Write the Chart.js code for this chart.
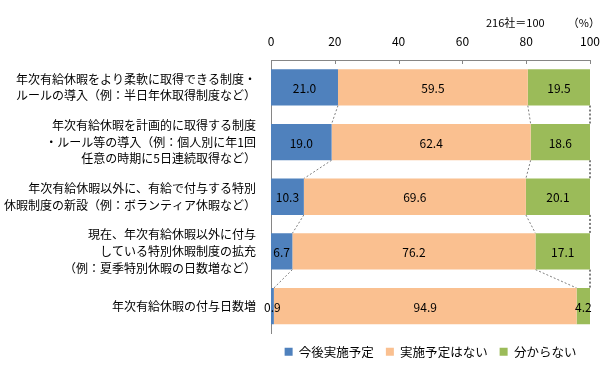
<!DOCTYPE html>
<html>
<head>
<meta charset="utf-8">
<script src="https://cdn.jsdelivr.net/npm/chart.js@4/dist/chart.umd.min.js"></script>
<style>
  html, body { margin: 0; padding: 0; background: #fff; }
  #wrap { width: 613px; height: 368px; }
</style>
</head>
<body>
<div id="wrap"><canvas id="grafico"></canvas></div>
<script>
const categorias = [
  ["年次有給休暇をより柔軟に取得できる制度・", "ルールの導入（例：半日年休取得制度など）"],
  ["年次有給休暇を計画的に取得する制度", "・ルール等の導入（例：個人別に年1回", "任意の時期に5日連続取得など）"],
  ["年次有給休暇以外に、有給で付与する特別", "休暇制度の新設（例：ボランティア休暇など）"],
  ["現在、年次有給休暇以外に付与", "している特別休暇制度の拡充", "（例：夏季特別休暇の日数増など）"],
  "年次有給休暇の付与日数増"
];
const seriesNombres = ["今後実施予定", "実施予定はない", "分からない"];
const valoresPlan = [21.0, 19.0, 10.3, 6.7, 0.9];
const valoresNo = [59.5, 62.4, 69.6, 76.2, 94.9];
const valoresNoSabe = [19.5, 18.6, 20.1, 17.1, 4.2];
const ticksX = [0, 20, 40, 60, 80, 100];
const notaBase = "216社＝100";
const notaUnidad = "（%）";

const colores = ["#4F81BD", "#FAC090", "#9BBB59"];
const fuente = "'Noto Sans CJK JP', 'Noto Sans', sans-serif";

// lineas de serie punteadas entre barras, marcas de eje y etiquetas
const extras = {
  id: "extras",
  beforeDatasetsDraw(chart) {
    const ctx = chart.ctx;
    const n = chart.data.labels.length;
    ctx.save();
    ctx.setLineDash([2, 2]);
    ctx.lineWidth = 1;
    chart.data.datasets.forEach((ds, d) => {
      const meta = chart.getDatasetMeta(d);
      ctx.strokeStyle = d === 2 ? "#000" : "#7f7f7f";
      for (let i = 0; i < n - 1; i++) {
        const a = meta.data[i], b = meta.data[i + 1];
        ctx.beginPath();
        ctx.moveTo(a.x, a.y + a.height / 2);
        ctx.lineTo(b.x, b.y - b.height / 2);
        ctx.stroke();
      }
    });
    ctx.restore();
  },
  afterDatasetsDraw(chart) {
    const ctx = chart.ctx;
    ctx.save();
    ctx.font = "12px " + fuente;
    ctx.fillStyle = "#000";
    ctx.textAlign = "center";
    ctx.textBaseline = "middle";
    chart.data.datasets.forEach((ds, d) => {
      chart.getDatasetMeta(d).data.forEach((el, i) => {
        ctx.fillText(ds.data[i].toFixed(1), (el.x + el.base) / 2, el.y + 1);
      });
    });
    // marcas del eje superior hacia dentro
    const x = chart.scales.x;
    const top = chart.chartArea.top;
    ctx.strokeStyle = "#868686";
    ctx.lineWidth = 1;
    ticksX.forEach(v => {
      const px = Math.round(x.getPixelForValue(v)) + 0.5;
      ctx.beginPath();
      ctx.moveTo(px, top);
      ctx.lineTo(px, top + 4);
      ctx.stroke();
    });
    ctx.font = "11px " + fuente;
    ctx.textAlign = "left";
    ctx.fillText(notaBase, 486, 23);
    ctx.textAlign = "right";
    ctx.fillText(notaUnidad, 600, 23);
    ctx.restore();
  }
};

new Chart(document.getElementById("grafico"), {
  type: "bar",
  data: {
    labels: categorias,
    datasets: [
      { label: seriesNombres[0], data: valoresPlan, backgroundColor: colores[0] },
      { label: seriesNombres[1], data: valoresNo, backgroundColor: colores[1] },
      { label: seriesNombres[2], data: valoresNoSabe, backgroundColor: colores[2] }
    ]
  },
  options: {
    indexAxis: "y",
    responsive: true,
    maintainAspectRatio: false,
    animation: false,
    layout: { padding: { left: 0, right: 23, top: 0, bottom: 0 } },
    datasets: { bar: { barPercentage: 0.664, categoryPercentage: 1, borderWidth: 0 } },
    scales: {
      x: {
        position: "top",
        stacked: true,
        min: 0,
        max: 100,
        afterBuildTicks: s => { s.ticks = ticksX.map(v => ({ value: v })); },
        afterFit: s => { s.height = 60; },
        grid: { display: false, drawTicks: false },
        border: { color: "#868686" },
        ticks: { padding: 11, color: "#000", font: { family: fuente, size: 12 } }
      },
      y: {
        stacked: true,
        afterFit: s => { s.width = 271; },
        grid: { display: false, drawTicks: false },
        border: { color: "#868686" },
        ticks: { padding: 15, color: "#000", font: { family: fuente, size: 12, lineHeight: 1.4 } }
      }
    },
    plugins: {
      tooltip: { enabled: false },
      legend: {
        position: "bottom",
        fullSize: false,
        labels: {
          boxWidth: 8,
          boxHeight: 8,
          padding: 12,
          color: "#000",
          font: { family: fuente, size: 12.5 }
        }
      }
    }
  },
  plugins: [extras]
});
</script>
</body>
</html>
